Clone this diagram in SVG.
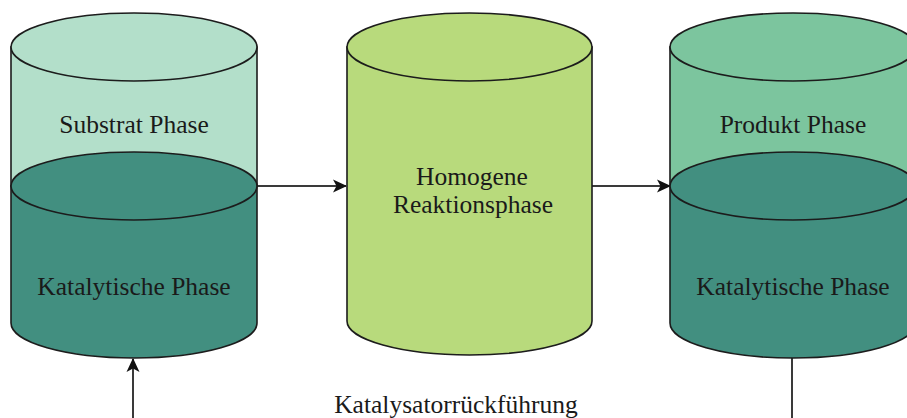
<svg xmlns="http://www.w3.org/2000/svg" width="907" height="418" viewBox="0 0 907 418">
  <style>
    .edge { stroke: #1c1c1c; stroke-width: 1.6; }
    .lbl { font-family: "Liberation Serif", "Times New Roman", serif; font-size: 25.5px; fill: #1a1a1a; text-anchor: middle; }
    .conn { stroke: #3a3a3a; stroke-width: 2; fill: none; }
    .light { fill: #b3dfca; }
    .prod { fill: #7cc59e; }
    .cat { fill: #428f80; }
    .homo { fill: #b8da7c; }
  </style>
  <defs>
    <marker id="arrow" markerWidth="14" markerHeight="14" refX="13" refY="7" orient="auto" markerUnits="userSpaceOnUse">
      <path d="M0,0.5 L14,7 L0,13.5 L3.5,7 Z" fill="#111"/>
    </marker>
  </defs>

  <!-- connectors -->
  <g id="connectors">
    <line class="conn" x1="257" y1="186" x2="346" y2="186" marker-end="url(#arrow)"/>
    <line class="conn" x1="592" y1="186" x2="670" y2="186" marker-end="url(#arrow)"/>
    <line class="conn" x1="792" y1="358" x2="792" y2="418"/>
    <line class="conn" x1="133" y1="418" x2="133" y2="359" marker-end="url(#arrow)"/>
  </g>

  <!-- left vessel: substrate over catalyst phase -->
  <g id="substrat">
    <path class="light edge" d="M11,47 L11,186 L257,186 L257,47 Z"/>
    <ellipse class="light edge" cx="134" cy="47" rx="123" ry="34"/>
    <path class="cat edge" d="M11,186 L11,323 A123,35 0 0 0 257,323 L257,186 Z"/>
    <ellipse class="cat edge" cx="134" cy="186" rx="123" ry="34"/>
    <text class="lbl" x="134" y="133">Substrat Phase</text>
    <text class="lbl" x="134" y="295">Katalytische Phase</text>
  </g>

  <!-- middle vessel: homogeneous reaction phase -->
  <g id="reaktion">
    <path class="homo edge" d="M347,47 L347,321 A122.5,34 0 0 0 592,321 L592,47 Z"/>
    <ellipse class="homo edge" cx="469.5" cy="47" rx="122.5" ry="34"/>
    <text class="lbl" x="472" y="185">Homogene</text>
    <text class="lbl" x="473" y="213">Reaktionsphase</text>
  </g>

  <!-- right vessel: product over catalyst phase -->
  <g id="produkt">
    <path class="prod edge" d="M670,47 L670,186 L916,186 L916,47 Z"/>
    <ellipse class="prod edge" cx="793" cy="47" rx="123" ry="34"/>
    <path class="cat edge" d="M670,186 L670,323 A123,35 0 0 0 916,323 L916,186 Z"/>
    <ellipse class="cat edge" cx="793" cy="186" rx="123" ry="34"/>
    <text class="lbl" x="793" y="133">Produkt Phase</text>
    <text class="lbl" x="793" y="295">Katalytische Phase</text>
  </g>

  <g id="rueckfuehrung">
    <text class="lbl" x="456" y="413">Katalysatorrückführung</text>
  </g>
</svg>
